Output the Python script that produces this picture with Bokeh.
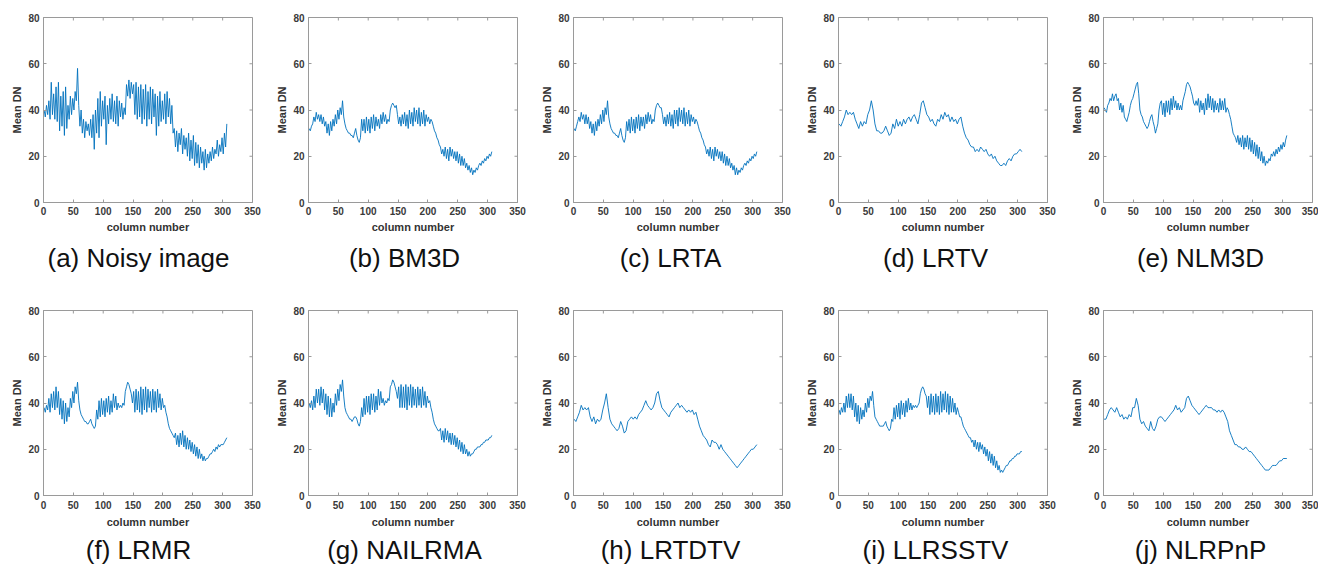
import math
from bokeh.plotting import figure
from bokeh.layouts import row, column
from bokeh.models import Range1d, FixedTicker
from bokeh.core.properties import value
from bokeh.embed import file_html
from bokeh.resources import INLINE

# column numbers: every 2nd column for the noisy-looking curves, every 3rd for the smooth ones
cols2 = list(range(1, 308, 2))
cols3 = list(range(1, 308, 3))

x_ticks = [0, 50, 100, 150, 200, 250, 300, 350]
y_ticks = [0, 20, 40, 60, 80]
X_MAX = 350
Y_MAX = 80

noisy = [40,37,42,38,44,36,52,38,47,36,
         50,35,52,31,46,33,48,29,50,32,
         42,36,46,38,45,40,48,44,58,42,
         33,40,30,36,28,35,31,34,29,36,
         28,38,23,40,30,45,28,48,33,44,
         36,46,25,42,34,45,36,47,35,44,
         34,46,33,44,37,43,36,41,38,51,
         46,53,45,52,47,51,38,52,36,50,
         37,51,34,49,36,51,33,48,36,50,
         34,49,37,47,29,46,33,48,35,44,
         36,47,34,48,37,45,34,42,30,32,
         24,31,22,30,25,32,21,29,23,28,
         20,30,18,27,19,29,16,26,17,25,
         15,24,17,22,14,23,15,21,17,22,
         18,24,19,23,21,27,20,25,22,28,
         21,30,24,34]

bm3d = [32,31,33,34,37,35,39,36,38,35,
        38,34,37,33,35,30,34,29,35,31,
        36,33,38,34,40,36,41,38,44,37,
        34,32,31,30,30,29,29,28,30,32,
        29,27,26,28,36,31,36,30,37,31,
        36,30,37,32,38,31,37,33,36,32,
        38,34,39,35,38,34,36,35,40,42,
        43,42,41,42,38,34,37,33,38,34,
        39,33,38,32,40,34,39,33,41,35,
        40,34,41,33,39,34,40,33,38,35,
        37,34,36,35,33,31,30,28,27,25,
        24,21,23,20,24,19,23,18,24,20,
        23,19,22,18,22,17,21,16,20,16,
        19,15,17,14,16,13,15,12,14,13,
        15,14,16,17,16,18,17,19,18,20,
        19,21,20,22]

lrta = [32,31,33,35,37,35,39,36,38,34,
        38,34,37,32,35,30,34,29,35,31,
        36,33,38,34,40,35,41,38,44,37,
        34,32,31,30,30,29,29,28,30,32,
        29,27,26,28,35,31,36,30,37,31,
        36,30,37,32,38,31,37,33,37,32,
        38,34,39,35,38,34,36,35,40,42,
        43,42,41,41,38,34,37,33,38,34,
        39,33,38,32,40,34,40,33,41,35,
        40,34,41,33,39,34,40,33,38,35,
        37,34,36,35,33,31,30,28,27,25,
        24,21,23,20,24,19,23,18,24,20,
        23,19,22,18,22,17,21,16,20,16,
        19,15,17,14,16,12,15,12,14,13,
        15,14,16,17,16,18,17,19,18,20,
        19,21,20,22]

lrtv = [34,33,35,37,40,38,39,38,39,36,
        34,32,35,33,35,34,38,40,44,40,
        34,31,31,30,30,31,33,31,29,30,
        34,32,36,33,35,33,36,34,36,37,
        35,37,38,36,34,38,43,44,41,38,
        37,35,36,34,33,36,35,38,36,39,
        37,38,35,37,35,36,34,36,37,33,
        30,28,27,25,24,24,22,23,22,24,
        23,22,23,21,20,21,19,20,18,17,
        16,16,17,16,18,19,18,20,21,21,
        22,23,22]

nlm3d = [41,40,39,42,43,45,44,47,44,46,
         47,44,45,40,43,39,42,37,36,35,
         37,39,42,44,45,47,49,51,52,47,
         40,38,37,35,34,33,32,33,35,37,
         38,35,33,30,32,34,40,43,44,38,
         43,37,44,39,44,38,45,40,46,41,
         44,40,43,40,42,40,44,46,48,51,
         52,51,50,48,46,43,42,44,42,45,
         39,44,40,43,38,45,40,47,41,46,
         40,45,39,44,40,43,39,45,40,44,
         40,45,39,41,40,38,36,33,30,29,
         28,26,29,25,28,24,29,23,28,24,
         29,23,28,22,27,21,26,20,25,19,
         24,18,22,17,20,16,18,17,19,18,
         21,20,22,20,23,21,24,22,25,23,
         26,24,27,29]

lrmr = [38,36,39,37,42,36,44,38,45,37,
        47,38,45,35,42,33,41,31,40,32,
        38,34,42,38,45,40,47,44,49,41,
        37,35,34,33,32,32,31,31,32,33,
        31,30,29,30,37,33,41,34,42,35,
        41,34,42,36,43,35,41,36,44,38,
        43,37,40,38,39,38,40,39,45,47,
        49,48,46,44,40,45,36,46,37,45,
        36,47,35,46,37,47,36,46,38,45,
        36,46,37,45,36,46,38,44,37,42,
        38,39,36,34,31,29,28,27,26,25,
        27,22,26,21,27,22,28,21,26,20,
        25,20,24,19,23,18,22,17,21,16,
        20,16,18,15,17,15,16,16,17,18,
        18,19,20,19,21,20,22,21,22,22,
        22,23,24,25]

nailrma = [40,38,41,37,43,38,46,40,46,39,
           47,40,46,37,44,35,43,34,42,34,
           40,36,44,39,46,41,48,45,50,43,
           38,36,35,34,33,33,32,33,34,34,
           33,31,30,32,38,34,42,35,43,36,
           43,35,44,37,44,36,43,37,46,39,
           45,40,42,39,41,40,42,41,47,48,
           50,49,47,45,42,47,38,48,38,47,
           38,48,37,47,39,48,38,47,39,46,
           38,47,39,46,38,47,39,45,38,43,
           40,41,38,36,33,31,30,29,28,28,
           29,24,28,23,29,24,28,23,27,22,
           27,22,26,21,25,20,24,19,23,18,
           22,18,20,17,19,17,18,18,19,20,
           20,21,21,21,22,22,23,23,24,24,
           24,25,25,26]

lrtdtv = [33,32,34,36,39,37,38,37,38,34,
          32,34,31,33,32,33,37,40,44,38,
          33,31,30,29,28,29,32,30,27,28,
          32,33,34,33,34,33,35,36,37,39,
          41,39,38,37,38,40,44,45,41,38,
          37,36,35,34,36,37,38,39,40,38,
          39,38,37,36,37,36,37,35,36,33,
          30,28,26,25,24,22,21,24,23,23,
          22,20,22,20,19,18,17,16,15,14,
          13,12,13,14,15,16,17,18,19,20,
          20,21,22]

llrsstv = [37,35,38,36,40,36,43,38,44,38,
           44,37,43,34,40,32,39,31,38,33,
           37,34,40,36,42,38,43,41,45,39,
           34,33,32,31,30,30,30,30,31,32,
           30,29,28,29,33,32,38,33,39,34,
           40,33,41,35,40,34,41,36,42,37,
           40,37,39,38,39,38,39,40,44,46,
           47,46,44,43,38,43,35,44,36,43,
           35,44,36,43,35,45,36,44,37,45,
           36,44,35,43,36,42,36,40,35,38,
           36,34,34,32,30,29,28,27,26,25,
           25,23,24,21,24,20,23,19,23,20,
           22,18,21,17,20,15,19,14,18,13,
           17,12,15,11,13,10,11,10,11,12,
           13,13,14,15,15,16,16,17,17,18,
           18,18,19,19]

nlrpnp = [33,33,35,37,38,37,36,38,36,34,
          35,33,34,33,35,34,38,38,42,39,
          33,31,32,30,29,28,32,29,28,30,
          33,34,34,33,32,33,34,35,36,37,
          39,37,38,36,37,38,42,43,41,39,
          38,37,36,35,36,37,38,39,38,38,
          38,37,37,36,37,36,37,36,34,32,
          28,26,24,22,22,21,21,20,20,21,
          20,19,19,18,17,16,15,14,13,12,
          11,11,11,12,13,13,13,14,15,15,
          16,16,16]

captions_top = ["(a) Noisy image", "(b) BM3D", "(c) LRTA", "(d) LRTV", "(e) NLM3D"]
captions_bottom = ["(f) LRMR", "(g) NAILRMA", "(h) LRTDTV", "(i) LLRSSTV", "(j) NLRPnP"]
series_top = [(cols2, noisy), (cols2, bm3d), (cols2, lrta), (cols3, lrtv), (cols2, nlm3d)]
series_bottom = [(cols2, lrmr), (cols2, nailrma), (cols3, lrtdtv), (cols2, llrsstv), (cols3, nlrpnp)]

LINE = "#0072BD"
FRAME = "#9a9a9a"
TICKTXT = "#3a3a3a"
FONT = "Liberation Sans"

TOTAL_W = 1318
widths = [265, 265, 265, 265, 258]
rights = [13, 13, 13, 13, 6]
# horizontal centres (px) of the sub-figure captions
caption_cx = [138, 404, 670, 935, 1200]


def make_panel(xs, vals, width, height, top, bottom, right, tick_standoff, label_standoff):
    p = figure(width=width, height=height, output_backend="svg", toolbar_location=None,
               x_range=Range1d(0, X_MAX), y_range=Range1d(0, Y_MAX),
               min_border_left=43, min_border_right=right,
               min_border_top=top, min_border_bottom=bottom,
               background_fill_color="white", border_fill_color="white")
    p.outline_line_color = FRAME
    p.outline_line_width = 1
    p.grid.visible = False
    p.xaxis.ticker = FixedTicker(ticks=x_ticks)
    p.yaxis.ticker = FixedTicker(ticks=y_ticks)
    for ax in (p.xaxis[0], p.yaxis[0]):
        ax.major_tick_in = 3
        ax.major_tick_out = 0
        ax.minor_tick_line_color = None
        ax.axis_line_color = FRAME
        ax.major_tick_line_color = FRAME
        ax.major_label_text_font = FONT
        ax.major_label_text_font_style = "bold"
        ax.major_label_text_font_size = "10px"
        ax.major_label_text_color = TICKTXT
        ax.axis_label_text_font = FONT
        ax.axis_label_text_font_style = "bold"
        ax.axis_label_text_font_size = "11px"
        ax.axis_label_text_color = "#333333"
        ax.major_label_standoff = 4
        ax.axis_label_standoff = 2
    p.xaxis.major_label_standoff = tick_standoff
    p.xaxis.axis_label_standoff = label_standoff
    p.xaxis.axis_label = "column number"
    p.yaxis.axis_label = "Mean DN"
    # inward tick marks along the top and right edges of the box
    p.ray(x=x_ticks, y=[Y_MAX] * len(x_ticks), length=3, length_units="screen",
          angle=-math.pi / 2, line_color=FRAME, line_width=1)
    p.ray(x=[X_MAX] * len(y_ticks), y=y_ticks, length=3, length_units="screen",
          angle=math.pi, line_color=FRAME, line_width=1)
    p.line(xs, vals, line_color=LINE, line_width=0.9)
    return p


def caption_strip(texts, height, ypos):
    c = figure(width=TOTAL_W, height=height, output_backend="svg", toolbar_location=None,
               x_range=Range1d(0, TOTAL_W), y_range=Range1d(0, height),
               x_axis_location=None, y_axis_location=None,
               min_border=0, background_fill_color="white", border_fill_color="white")
    c.outline_line_color = None
    c.grid.visible = False
    c.text(x=caption_cx, y=[ypos] * len(texts), text=texts,
           text_align="center", text_baseline="middle",
           text_font=value(FONT), text_font_size="26px", text_color="#111111")
    return c


row1 = [make_panel(series_top[i][0], series_top[i][1], widths[i], 240, 17, 38, rights[i], 4, 3)
        for i in range(5)]
row2 = [make_panel(series_bottom[i][0], series_bottom[i][1], widths[i], 241, 18, 38, rights[i], 5, 4)
        for i in range(5)]
cap1 = caption_strip(captions_top, 52, 35)
cap2 = caption_strip(captions_bottom, 32, 16)

layout = column(row(*row1), cap1, row(*row2), cap2)
open("out.html", "w").write(file_html(layout, INLINE))
